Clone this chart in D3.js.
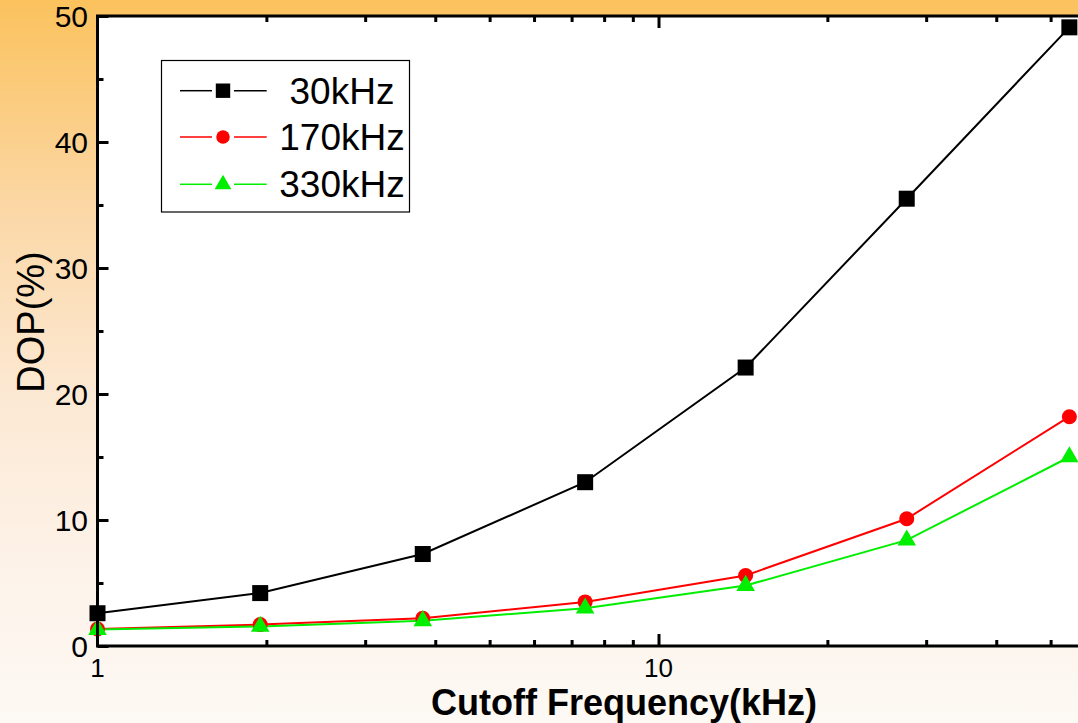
<!DOCTYPE html>
<html><head><meta charset="utf-8">
<script src="https://cdn.jsdelivr.net/npm/d3@7"></script>
<style>body{margin:0;padding:0;overflow:hidden}svg{display:block}text{font-family:Arial,"Liberation Sans",sans-serif}</style>
</head><body>
<script>
const freqs = [1, 1.95, 3.8, 7.4, 14.3, 27.7, 54];
const s30 = [2.6, 4.2, 7.3, 13.0, 22.1, 35.5, 49.1];
const s170 = [1.35, 1.7, 2.2, 3.5, 5.6, 10.1, 18.2];
const s330 = [1.3, 1.55, 2.0, 3.0, 4.8, 8.4, 15.0];
const seriesNames = ["30kHz", "170kHz", "330kHz"];
const seriesColors = ["#000000", "#ff0000", "#00ee00"];
const seriesShapes = ["square", "circle", "triangle"];
const yTicks = [0, 10, 20, 30, 40, 50];
const xLabelTicks = [1, 10];

const W = 1078, H = 723;
const svg = d3.select("body").append("svg").attr("width", W).attr("height", H);
const defs = svg.append("defs");
const g = defs.append("linearGradient").attr("id","bg").attr("x1",0).attr("y1",0).attr("x2",0).attr("y2",1);
[[0,"#fbc25d"],[0.3,"#fbd8a8"],[0.55,"#fce9d4"],[0.8,"#fdf3ea"],[1,"#fdf9f4"]].forEach(([o,c])=>g.append("stop").attr("offset",o).attr("stop-color",c));
svg.append("rect").attr("width",W).attr("height",H).attr("fill","url(#bg)");

const x0 = 97.5, dec = 561;
const xMax = 56;
const x = d3.scaleLog().domain([1, xMax]).range([x0, x0 + dec*Math.log10(xMax)]);
const y = d3.scaleLinear().domain([0, 50]).range([646, 16]);

const L = x0, R = W + 2, T = y(50), B = y(0);
svg.append("rect").attr("x",L).attr("y",T).attr("width",R-L).attr("height",B-T).attr("fill","#fff");

// data series
const data = [s30, s170, s330];
const line = d3.line().x((d,i)=>x(freqs[i])).y(d=>y(d));
const plot = svg.append("g");
function marker(sel, shape, color, s){
  if(shape==="square") sel.append("rect").attr("x",-8*s).attr("y",-8*s).attr("width",16*s).attr("height",16*s).attr("fill",color);
  else if(shape==="circle") sel.append("circle").attr("r",7.5*s).attr("fill",color);
  else sel.append("path").attr("d", d3.symbol().type(d3.symbolTriangle).size(150*s*s)()).attr("fill",color);
}
data.forEach((vals,k)=>{
  plot.append("path").datum(vals).attr("d",line).attr("fill","none").attr("stroke",seriesColors[k]).attr("stroke-width",2);
});
data.forEach((vals,k)=>{
  vals.forEach((v,i)=>{
    const gg = plot.append("g").attr("transform",`translate(${x(freqs[i])},${y(v)})`);
    marker(gg, seriesShapes[k], seriesColors[k], 1);
  });
});

// axes
const minorX = [2,3,4,5,6,7,8,9,20,30,40,50];
const majorX = [10];
const ax = svg.append("g");
function styleAx(s){ s.select(".domain").remove(); s.selectAll("line").attr("stroke","#000").attr("stroke-width",3); }
ax.append("g").attr("transform",`translate(0,${B})`)
  .call(d3.axisBottom(x).tickValues(minorX).tickSizeInner(-6).tickSizeOuter(0).tickFormat("")).call(styleAx);
ax.append("g").attr("transform",`translate(0,${B})`)
  .call(d3.axisBottom(x).tickValues(majorX).tickSizeInner(-12).tickSizeOuter(0).tickFormat("")).call(styleAx);
ax.append("g").attr("transform",`translate(0,${T})`)
  .call(d3.axisTop(x).tickValues(minorX).tickSizeInner(-6).tickSizeOuter(0).tickFormat("")).call(styleAx);
ax.append("g").attr("transform",`translate(0,${T})`)
  .call(d3.axisTop(x).tickValues(majorX).tickSizeInner(-12).tickSizeOuter(0).tickFormat("")).call(styleAx);
ax.append("g").attr("transform",`translate(${L},0)`)
  .call(d3.axisLeft(y).tickValues(yTicks).tickSizeInner(-11).tickSizeOuter(0).tickFormat("")).call(styleAx);
ax.append("g").attr("transform",`translate(${L},0)`)
  .call(d3.axisLeft(y).tickValues([5,15,25,35,45]).tickSizeInner(-6).tickSizeOuter(0).tickFormat("")).call(styleAx);
ax.append("path").attr("d",`M${R},${T}H${L}V${B}H${R}`).attr("fill","none").attr("stroke","#000").attr("stroke-width",3).attr("stroke-linecap","square");

// tick labels
svg.append("g").selectAll("text").data(yTicks).join("text")
  .attr("x",88).attr("y",d=>y(d)+11).attr("text-anchor","end").attr("font-size",30).attr("fill","#000").text(d=>d);
svg.append("g").selectAll("text").data(xLabelTicks).join("text")
  .attr("x",d=>x(d)).attr("y",676.5).attr("text-anchor","middle").attr("font-size",26).attr("fill","#000").text(d=>d);

// axis titles
svg.append("text").attr("x",624).attr("y",715).attr("text-anchor","middle").attr("font-size",36).attr("font-weight","bold").attr("fill","#000").text("Cutoff Frequency(kHz)");
svg.append("text").attr("transform","translate(44,322) rotate(-90)").attr("text-anchor","middle").attr("font-size",38).attr("fill","#000").text("DOP(%)");

// legend
const lg = svg.append("g");
lg.append("rect").attr("x",161.5).attr("y",60.5).attr("width",248).attr("height",151.5).attr("fill","#fff").attr("stroke","#000").attr("stroke-width",1.2);
const rowsY = [90.7, 137, 184.3];
seriesNames.forEach((n,k)=>{
  const ry = rowsY[k];
  lg.append("line").attr("x1",180).attr("x2",212).attr("y1",ry).attr("y2",ry).attr("stroke",seriesColors[k]).attr("stroke-width",1.5);
  lg.append("line").attr("x1",234).attr("x2",266.7).attr("y1",ry).attr("y2",ry).attr("stroke",seriesColors[k]).attr("stroke-width",1.5);
  const gg = lg.append("g").attr("transform",`translate(223,${ry})`);
  marker(gg, seriesShapes[k], seriesColors[k], 0.9);
  lg.append("text").attr("x",342).attr("y",ry+13).attr("text-anchor","middle").attr("font-size",37).attr("fill","#000").text(n);
});
</script>
</body></html>
